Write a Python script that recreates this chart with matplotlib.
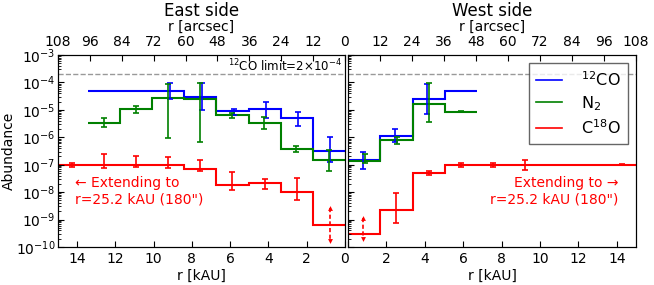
import matplotlib
matplotlib.use("Agg")
import matplotlib.pyplot as plt
import numpy as np
from matplotlib.ticker import LogLocator, NullFormatter

# kAU per arcsec (140 pc)
KAU_PER_ARCSEC = 0.14

# ---------------- East side ----------------
co_east_edges = [0, 12, 24, 36, 48, 60, 96]
co_east_vals = [3.2e-7, 5.1e-6, 1.05e-5, 9.0e-6, 3.0e-5, 5.0e-5]
n2_east_edges = [0, 12, 24, 36, 48, 60, 72, 84, 96]
n2_east_vals = [1.5e-7, 3.7e-7, 3.4e-6, 6.3e-6, 2.5e-5, 2.8e-5, 1.05e-5, 3.4e-6]
c18o_east_edges = [0, 12, 24, 36, 48, 60, 180]
c18o_east_vals = [6.5e-10, 1.0e-8, 2.1e-8, 1.9e-8, 7.2e-8, 1.0e-7]

co_east_pts = [6, 18, 30, 42, 54, 66]
co_east_y = [3.2e-7, 5.1e-6, 1.05e-5, 9.0e-6, 3.0e-5, 5.0e-5]
co_east_lo = [1.3e-7, 2.6e-6, 4.9e-6, 6.5e-6, 9.8e-6, 2.4e-5]
co_east_hi = [1.05e-6, 8.5e-6, 2.0e-5, 1.12e-5, 9.8e-5, 9.8e-5]

n2_east_pts = [6, 18, 30, 42, 54, 66, 78, 90]
n2_east_y = [1.5e-7, 3.7e-7, 3.4e-6, 6.3e-6, 2.5e-5, 2.8e-5, 1.05e-5, 3.4e-6]
n2_east_lo = [5.9e-8, 2.95e-7, 2.0e-6, 4.9e-6, 6.5e-7, 9.5e-7, 7.4e-6, 2.4e-6]
n2_east_hi = [3.4e-7, 4.9e-7, 5.6e-6, 7.4e-6, 9.8e-5, 8.7e-5, 1.4e-5, 4.9e-6]

c18o_east_pts = [18, 30, 42, 54, 66, 78, 90, 102]
c18o_east_y = [1.0e-8, 2.1e-8, 1.9e-8, 8.5e-8, 1.0e-7, 1.0e-7, 1.0e-7, 1.0e-7]
c18o_east_lo = [5.1e-9, 1.3e-8, 1.17e-8, 5.9e-8, 7.9e-8, 8.5e-8, 7.9e-8, 8.5e-8]
c18o_east_hi = [3.2e-8, 2.9e-8, 5.5e-8, 1.55e-7, 1.95e-7, 2.0e-7, 2.45e-7, 1.17e-7]
c18o_east_limit = [6, 2.6e-9, 1.7e-10]   # arcsec, top, bottom

# ---------------- West side ----------------
co_west_edges = [0, 12, 24, 36, 48]
co_west_vals = [1.55e-7, 1.15e-6, 2.5e-5, 5.0e-5]
n2_west_edges = [0, 12, 24, 36, 48]
n2_west_vals = [1.4e-7, 8.0e-7, 1.7e-5, 8.5e-6]
c18o_west_edges = [0, 12, 24, 36, 180]
c18o_west_vals = [3.0e-10, 2.3e-9, 4.8e-8, 1.0e-7]

co_west_pts = [6, 18, 30]
co_west_y = [1.55e-7, 1.15e-6, 2.5e-5]
co_west_lo = [6.9e-8, 6.6e-7, 7.1e-6]
co_west_hi = [2.95e-7, 1.95e-6, 8.5e-5]

n2_west_pts = [6, 18, 30, 42]
n2_west_y = [1.4e-7, 8.0e-7, 1.7e-5, 8.5e-6]
n2_west_lo = [1.12e-7, 5.75e-7, 3.5e-6, 8.1e-6]
n2_west_hi = [2.4e-7, 1.05e-6, 9.3e-5, 9.1e-6]

c18o_west_pts = [18, 30, 42, 54, 66, 102]
c18o_west_y = [2.3e-9, 4.8e-8, 1.0e-7, 1.0e-7, 1.0e-7, 1.0e-7]
c18o_west_lo = [7.2e-10, 4.2e-8, 8.5e-8, 8.5e-8, 6.3e-8, 9.6e-8]
c18o_west_hi = [9.5e-9, 6.0e-8, 1.2e-7, 1.2e-7, 1.55e-7, 1.04e-7]
c18o_west_limit = [6, 1.15e-9, 1.9e-10]

co_limit = 2e-4

blue, green, red = (0, 0, 1), (0, 0.5, 0), (1, 0, 0)

plt.rcParams['font.family'] = 'DejaVu Sans'
plt.rcParams['mathtext.default'] = 'regular'

fig = plt.figure(figsize=(6.54, 2.85), dpi=100)
axE = fig.add_axes([0.0887, 0.1333, 0.4388, 0.6737])
axW = fig.add_axes([0.5321, 0.1333, 0.4404, 0.6737])


def k(a):
    return np.asarray(a, dtype=float) * KAU_PER_ARCSEC


def draw(ax, data, limit):
    for edges, vals, pts, y, lo, hi, col, dx in data:
        ax.stairs(vals, k(edges), color=col, lw=1.5, baseline=None)
        yy = np.array(y)
        err = [yy - np.array(lo), np.array(hi) - yy]
        ax.errorbar(k(pts) + dx, yy, yerr=err, fmt='none', ecolor=col,
                    elinewidth=1.2, capsize=2.5, capthick=1.2)
    xa, top, bot = limit
    xa = k(xa) - 0.05
    ax.plot([xa, xa], [top, bot], color=red, ls=(0, (2.5, 1.5)), lw=1.2)
    ax.plot([xa], [top], marker='^', color=red, ms=3.5, mew=0)
    ax.plot([xa], [bot], marker='v', color=red, ms=3.5, mew=0)
    ax.axhline(co_limit, color='0.6', ls='--', lw=1)


draw(axE, [
    (co_east_edges, co_east_vals, co_east_pts, co_east_y, co_east_lo, co_east_hi, blue, -0.07),
    (n2_east_edges, n2_east_vals, n2_east_pts, n2_east_y, n2_east_lo, n2_east_hi, green, 0.02),
    (c18o_east_edges, c18o_east_vals, c18o_east_pts, c18o_east_y, c18o_east_lo, c18o_east_hi, red, 0.0),
], c18o_east_limit)
draw(axW, [
    (co_west_edges, co_west_vals, co_west_pts, co_west_y, co_west_lo, co_west_hi, blue, -0.06),
    (n2_west_edges, n2_west_vals, n2_west_pts, n2_west_y, n2_west_lo, n2_west_hi, green, 0.03),
    (c18o_west_edges, c18o_west_vals, c18o_west_pts, c18o_west_y, c18o_west_lo, c18o_west_hi, red, 0.0),
], c18o_west_limit)

for ax, east in ((axE, True), (axW, False)):
    ax.set_yscale('log')
    ax.set_ylim(1e-10, 1e-3)
    ax.set_xlim((15, 0) if east else (0, 15))
    ax.set_xticks(range(0, 15, 2))
    ax.set_xticklabels([str(v) if (east or v) else '' for v in range(0, 15, 2)])
    ax.yaxis.set_major_locator(LogLocator(base=10, numticks=20))
    ax.yaxis.set_minor_locator(LogLocator(base=10, subs=np.arange(2, 10), numticks=20))
    ax.tick_params(which='both', direction='in', labelsize=10, right=False, top=False)
    ax.tick_params(which='major', length=4)
    ax.tick_params(which='minor', length=2)
    ax.set_xlabel('r [kAU]', fontsize=10, labelpad=2)
    top = ax.twiny()
    top.set_xlim((108, 0) if east else (0, 108))
    top.set_xticks(range(0, 109, 12))
    top.set_xticklabels([str(v) if (east or v) else '' for v in range(0, 109, 12)])
    top.tick_params(direction='in', labelsize=10, length=4, pad=4.5)
    top.set_xlabel('r [arcsec]', fontsize=10, labelpad=3)
    top.set_title('East side' if east else 'West side', fontsize=12, pad=1)

axE.set_yticks([10.0 ** p for p in range(-10, -2)])
axE.set_yticklabels(['$10^{%d}$' % p for p in range(-10, -2)])
axE.tick_params(axis='y', pad=2)
axE.set_ylabel('Abundance', fontsize=10)
axE.yaxis.set_label_coords(-0.148, 0.5)
axW.set_yticks([10.0 ** p for p in range(-10, -2)])
axW.yaxis.set_major_formatter(NullFormatter())
axW.yaxis.set_minor_formatter(NullFormatter())

axE.text(0.99, 0.944, r'$^{12}$CO limit=2$\times$10$^{-4}$', transform=axE.transAxes,
         ha='right', va='center', fontsize=8.5)
axE.text(0.058, 0.29, '\u2190 Extending to\nr=25.2 kAU (180")', transform=axE.transAxes,
         ha='left', va='center', color=red, fontsize=10, multialignment='left')
axW.text(0.94, 0.29, 'Extending to \u2192\nr=25.2 kAU (180")', transform=axW.transAxes,
         ha='right', va='center', color=red, fontsize=10, multialignment='right')

handles = [plt.Line2D([], [], color=c, lw=1.2) for c in (blue, green, red)]
leg = axW.legend(handles, ['$^{12}$CO', '$N_2$', 'C$^{18}$O'], loc='upper right',
                 bbox_to_anchor=(0.972, 0.958), borderaxespad=0, fontsize=11.5,
                 frameon=True, fancybox=False, handlelength=1.6, handletextpad=1.2,
                 labelspacing=0.32, borderpad=0.45)
leg.get_frame().set_edgecolor('0.25')
leg.get_frame().set_linewidth(1)

fig.savefig('out.png', dpi=100)
